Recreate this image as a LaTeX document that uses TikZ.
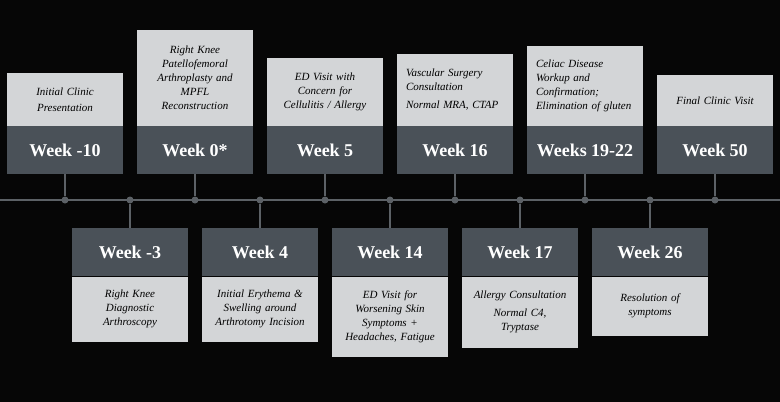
\documentclass[tikz,border=0pt]{standalone}
\usepackage{fontspec}
\setmainfont{Liberation Serif}
\usetikzlibrary{positioning}
\definecolor{bandgray}{HTML}{4A5158}
\definecolor{notegray}{HTML}{D3D5D7}
\definecolor{linegray}{HTML}{5C6166}
\definecolor{bgblack}{HTML}{060606}
\begin{document}
\begin{tikzpicture}[x=1pt, y=-1pt,
    band/.style={rectangle, fill=bandgray, text=white, font=\fontsize{18}{20}\selectfont\bfseries, minimum width=116pt, minimum height=48pt, inner sep=0pt},
    note/.style={rectangle, fill=notegray, text=black, font=\fontsize{11}{14}\selectfont\itshape, minimum width=116pt, text width=104pt, align=center, inner sep=0pt},
    leftnote/.style={note, text width=98pt, align=left},
    dot/.style={circle, fill=linegray, minimum size=7pt, inner sep=0pt},
    stem/.style={draw=linegray, line width=2pt}]
    \fill[bgblack] (0,0) rectangle (780,402);
    \useasboundingbox (0,0) rectangle (780,402);
    % timeline
    \coordinate (tl-start) at (0,200);
    \coordinate (tl-end) at (780,200);
    \draw[stem] (tl-start) -- (tl-end);
    \foreach \i in {1,...,11}
        \node[dot] (d\i) at (65*\i,200) {};
    % above the line
    \node[band, anchor=north] (wm10) at (65,126) {Week -10};
    \node[note, anchor=south, minimum height=53pt] (nm10) at (wm10.north) {Initial Clinic\\[2pt]Presentation};
    \node[band, anchor=north] (w0) at (195,126) {Week 0*};
    \node[note, anchor=south, minimum height=96pt] (n0) at (w0.north) {Right Knee\\Patellofemoral\\Arthroplasty and\\MPFL\\Reconstruction};
    \node[band, anchor=north] (w5) at (325,126) {Week 5};
    \node[note, anchor=south, minimum height=68pt] (n5) at (w5.north) {ED Visit with\\Concern for\\Cellulitis / Allergy};
    \node[band, anchor=north] (w16) at (455,126) {Week 16};
    \node[leftnote, anchor=south, minimum height=72pt] (n16) at (w16.north) {Vascular Surgery\\Consultation\\[4pt]Normal MRA, CTAP};
    \node[band, anchor=north] (w19) at (585,126) {Weeks 19-22};
    \node[leftnote, anchor=south, minimum height=80pt] (n19) at (w19.north) {Celiac Disease\\Workup and\\Confirmation;\\Elimination of gluten};
    \node[band, anchor=north] (w50) at (715,126) {Week 50};
    \node[note, anchor=south, minimum height=51pt] (n50) at (w50.north) {Final Clinic Visit};
    % below the line
    \node[band, anchor=north] (wm3) at (130,228) {Week -3};
    \node[note, anchor=north, minimum height=65pt] (nm3) at (wm3.south) {Right Knee\\Diagnostic\\Arthroscopy};
    \node[band, anchor=north] (w4) at (260,228) {Week 4};
    \node[note, anchor=north, minimum height=65pt] (n4) at (w4.south) {Initial Erythema \&\\Swelling around\\Arthrotomy Incision};
    \node[band, anchor=north] (w14) at (390,228) {Week 14};
    \node[note, anchor=north, minimum height=80pt] (n14) at (w14.south) {ED Visit for\\Worsening Skin\\Symptoms +\\Headaches, Fatigue};
    \node[band, anchor=north] (w17) at (520,228) {Week 17};
    \node[note, anchor=north, minimum height=71pt] (n17) at (w17.south) {Allergy Consultation\\[4pt]Normal C4,\\Tryptase};
    \node[band, anchor=north] (w26) at (650,228) {Week 26};
    \node[note, anchor=north, minimum height=59pt] (n26) at (w26.south) {Resolution of\\symptoms};
    % stems
    \draw[stem] (wm10.south) -- (d1);
    \draw[stem] (d2) -- (wm3.north);
    \draw[stem] (w0.south) -- (d3);
    \draw[stem] (d4) -- (w4.north);
    \draw[stem] (w5.south) -- (d5);
    \draw[stem] (d6) -- (w14.north);
    \draw[stem] (w16.south) -- (d7);
    \draw[stem] (d8) -- (w17.north);
    \draw[stem] (w19.south) -- (d9);
    \draw[stem] (d10) -- (w26.north);
    \draw[stem] (w50.south) -- (d11);
\end{tikzpicture}
\end{document}
